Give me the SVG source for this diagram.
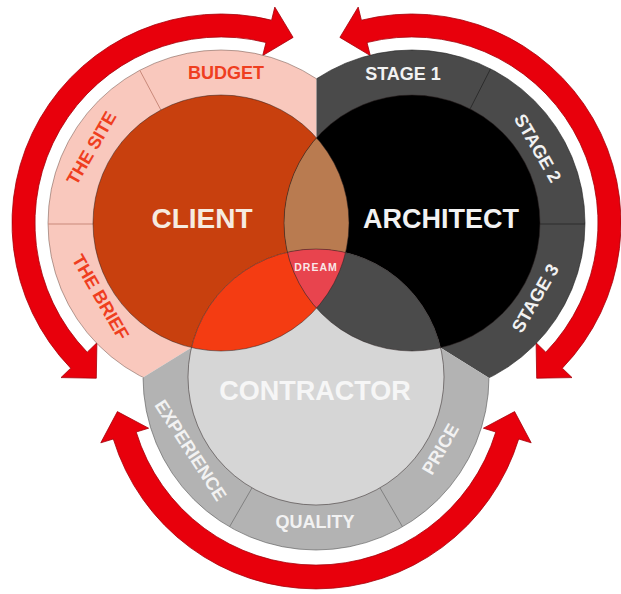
<svg xmlns="http://www.w3.org/2000/svg" width="621" height="594" viewBox="0 0 621 594">
<style>
text{font-family:"Liberation Sans",Arial,Helvetica,sans-serif;font-weight:bold;text-anchor:middle}
.rl{font-size:18px}
.big{font-size:28px}
.red{fill:#ef3e1f}
.wht{fill:#f2f2f2}
.arrow{fill:#e8000c;stroke:#a4000a;stroke-width:0.8;stroke-linejoin:miter}
.edge{fill:none;stroke:#2a2020;stroke-opacity:0.5;stroke-width:1}
</style>
<defs>
<clipPath id="rClient"><polygon points="-10,-10 316.5,-10 316.5,270.4 -10,471.8"/></clipPath>
<clipPath id="rArch"><polygon points="316.5,-10 640,-10 640,472.1 316.5,270.4"/></clipPath>
<clipPath id="rCon"><polygon points="-10,471.8 316.5,270.4 640,472.1 640,610 -10,610"/></clipPath>
<clipPath id="inClient"><circle cx="221" cy="223" r="128"/></clipPath>
<clipPath id="inArch"><circle cx="412" cy="223" r="128"/></clipPath>
<clipPath id="inCon"><circle cx="316" cy="377" r="128"/></clipPath>
</defs>
<rect width="621" height="594" fill="#ffffff"/>

<g id="connectors">
<path class="arrow" d="M70.7,368.2 A209,209 0 0 1 271.6,20.2 L274.8,7.1 L293.1,37.4 L262.7,55.6 L266,42.5 A186,186 0 0 0 87.2,352.2 L96.9,342.8 L96.3,378.2 L61,377.6 Z"/>
<path class="arrow" d="M562.3,368.2 A209,209 0 0 0 361.4,20.2 L358.2,7.1 L339.9,37.4 L370.3,55.6 L367,42.5 A186,186 0 0 1 545.8,352.2 L536.1,342.8 L536.7,378.2 L572,377.6 Z"/>
<path class="arrow" d="M113.3,439 A212,212 0 0 0 518.7,439 L531.2,442.8 L514.6,411.6 L483.4,428.2 L495.8,432 A188,188 0 0 1 136.2,432 L148.6,428.2 L117.4,411.6 L100.8,442.8 Z"/>
</g>

<g id="client-ring">
<circle cx="221" cy="223" r="173" fill="#f9c8bd" stroke="#6a4a40" stroke-opacity="0.5" clip-path="url(#rClient)"/>
<line x1="93" y1="224" x2="48" y2="224" stroke="#c9897a"/>
<line x1="160.9" y1="110" x2="139.8" y2="70.3" stroke="#c9897a"/>
<text class="rl red" x="226" y="79">BUDGET</text>
<text class="rl red" transform="translate(91,148) rotate(-60)" y="6.5">THE SITE</text>
<text class="rl red" transform="translate(101,297) rotate(60)" y="6.5">THE BRIEF</text>
</g>

<g id="architect-ring">
<circle cx="412" cy="223" r="173" fill="#4a4a4a" stroke="#222" stroke-opacity="0.6" clip-path="url(#rArch)"/>
<line x1="540" y1="224" x2="585" y2="224" stroke="#2c2c2c"/>
<line x1="470.1" y1="108.9" x2="490.5" y2="68.9" stroke="#2c2c2c"/>
<text class="rl wht" x="403" y="80">STAGE 1</text>
<text class="rl wht" transform="translate(538,148) rotate(60)" y="6.5">STAGE 2</text>
<text class="rl wht" transform="translate(535,298) rotate(-60)" y="6.5">STAGE 3</text>
</g>

<g id="contractor-ring">
<circle cx="316" cy="377" r="173" fill="#b3b3b3" stroke="#555" stroke-opacity="0.6" clip-path="url(#rCon)"/>
<line x1="380" y1="487.9" x2="402.5" y2="526.8" stroke="#808080"/>
<line x1="252" y1="487.9" x2="229.5" y2="526.8" stroke="#808080"/>
<text class="rl wht" transform="translate(191,450) rotate(57)" y="6.5">EXPERIENCE</text>
<text class="rl wht" x="315" y="528">QUALITY</text>
<text class="rl wht" transform="translate(440,449) rotate(-60)" y="6.5">PRICE</text>
</g>

<g id="client">
<circle cx="221" cy="223" r="128" fill="#c8400e"/>
</g>
<g id="architect">
<circle cx="412" cy="223" r="128" fill="#000000"/>
</g>
<g id="contractor">
<circle cx="316" cy="377" r="128" fill="#d6d6d6"/>
</g>

<g id="overlaps">
<circle cx="412" cy="223" r="128" fill="#b97b50" clip-path="url(#inClient)"/>
<circle cx="316" cy="377" r="128" fill="#f43c12" clip-path="url(#inClient)"/>
<circle cx="316" cy="377" r="128" fill="#4b4b4b" clip-path="url(#inArch)"/>
</g>

<g id="dream">
<g clip-path="url(#inClient)"><circle cx="316" cy="377" r="128" fill="#e8444e" clip-path="url(#inArch)"/></g>
</g>

<g id="outlines">
<circle class="edge" cx="221" cy="223" r="128"/>
<circle class="edge" cx="412" cy="223" r="128"/>
<circle class="edge" cx="316" cy="377" r="128"/>
</g>

<g id="labels">
<text class="big" x="202" y="228" fill="#f6ebe0">CLIENT</text>
<text class="big" x="441" y="228" fill="#f2f2f2" style="font-size:27px">ARCHITECT</text>
<text class="big" x="315" y="400" fill="#f6f6f6" style="font-size:27px">CONTRACTOR</text>
<text x="316" y="271" fill="#f8e8e8" style="font-size:10.5px;letter-spacing:1px">DREAM</text>
</g>
</svg>
